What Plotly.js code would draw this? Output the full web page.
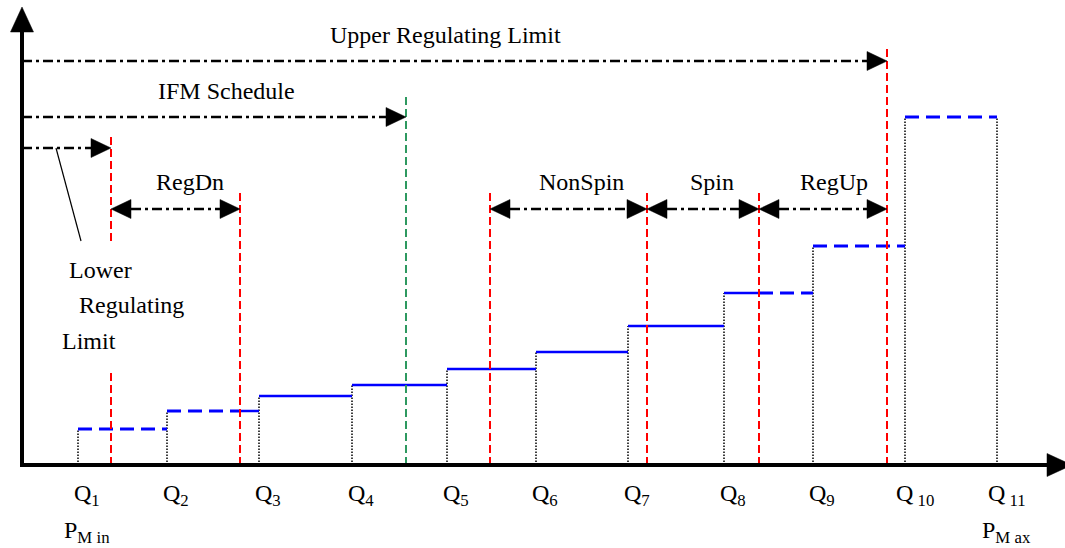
<!DOCTYPE html>
<html>
<head>
<meta charset="utf-8">
<script src="https://cdn.plot.ly/plotly-3.0.1.min.js"></script>
<style>html,body{margin:0;padding:0;background:#fff;}#chart{width:1065px;height:548px;}</style>
</head>
<body>
<div id="chart"></div>
<script>
// ---------------- data ----------------
const qLabels = ['Q<sub>1</sub>','Q<sub>2</sub>','Q<sub>3</sub>','Q<sub>4</sub>','Q<sub>5</sub>','Q<sub>6</sub>','Q<sub>7</sub>','Q<sub>8</sub>','Q<sub>9</sub>','Q<sub> 10</sub>','Q<sub> 11</sub>'];
const qMW = [56, 145, 237, 330, 425, 514, 606, 702, 791, 883, 975];
const stepPrice = [36, 54, 69, 80, 96, 113, 139, 172, 219, 348];
const pMinLabel = 'P<sub>M in</sub>';
const pMaxLabel = 'P<sub>M ax</sub>';

const lowerRegLimit = 89;
const regDnEnd = 218;
const ifmSchedule = 384;
const nonSpinStart = 468;
const spinStart = 625;
const regUpStart = 737;
const upperRegLimit = 865;

const reserveNames = ['RegDn', 'NonSpin', 'Spin', 'RegUp'];
const reserveFrom = [lowerRegLimit, nonSpinStart, spinStart, regUpStart];
const reserveTo = [regDnEnd, spinStart, regUpStart, upperRegLimit];

const limitNames = ['Upper Regulating Limit', 'IFM Schedule'];

// ---------------- drawing ----------------
const FONT = 'Liberation Serif, Times New Roman, serif';
const AX_TOP = 433, AX_RIGHT = 1025;
const yURL = 404, yIFM = 348, yLRL = 317, yRes = 256;
const HEAD_L = 20, HEAD_H = 9.5;

const traces = [];
function seg(X, Y, x0, x1, y0, y1) { X.push(x0, x1, null); Y.push(y0, y1, null); }

// dotted verticals at Q
const dX = [], dY = [];
qMW.forEach((q, i) => seg(dX, dY, q, q, 0, stepPrice[Math.min(i, stepPrice.length - 1)]));
traces.push({x: dX, y: dY, mode: 'lines', line: {color: '#000', width: 1.5, dash: '1.5px,1.5px'}});

// step curve
const sX = [], sY = [], hX = [], hY = [];
for (let i = 0; i < stepPrice.length; i++) {
  const a = qMW[i], b = qMW[i + 1], p = stepPrice[i];
  const s0 = Math.max(a, regDnEnd), s1 = Math.min(b, regUpStart);
  if (s1 > s0) seg(sX, sY, s0, s1, p, p);
  const l1 = Math.min(b, regDnEnd);
  if (l1 > a) seg(hX, hY, a, l1, p, p);
  const r0 = Math.max(a, regUpStart);
  if (b > r0) seg(hX, hY, r0, b, p, p);
}
traces.push({x: sX, y: sY, mode: 'lines', line: {color: '#0000ff', width: 2.5}});
traces.push({x: hX, y: hY, mode: 'lines', line: {color: '#0000ff', width: 3, dash: '14px,7px'}});

// limit vertical lines
const rX = [], rY = [];
seg(rX, rY, lowerRegLimit, lowerRegLimit, 0, 96);
seg(rX, rY, lowerRegLimit, lowerRegLimit, 224, yLRL + 12);
[regDnEnd, nonSpinStart, spinStart, regUpStart].forEach(x => seg(rX, rY, x, x, 0, yRes + 20));
seg(rX, rY, upperRegLimit, upperRegLimit, 0, yURL + 14);
traces.push({x: rX, y: rY, mode: 'lines', line: {color: '#ff0000', width: 2, dash: '8px,4px'}});
traces.push({x: [ifmSchedule, ifmSchedule], y: [0, yIFM + 20], mode: 'lines', line: {color: '#2e9960', width: 2, dash: '8px,4px'}});

// dash-dot arrows
const aX = [], aY = [];
const tX = [], tY = [];
function headR(x, y) { tX.push(x, x - HEAD_L, x - HEAD_L, x, null); tY.push(y, y + HEAD_H, y - HEAD_H, y, null); }
function headL(x, y) { tX.push(x, x + HEAD_L, x + HEAD_L, x, null); tY.push(y, y + HEAD_H, y - HEAD_H, y, null); }
[[upperRegLimit, yURL], [ifmSchedule, yIFM], [lowerRegLimit, yLRL]].forEach(([x, y]) => {
  seg(aX, aY, 0, x - HEAD_L, y, y); headR(x, y);
});
reserveFrom.forEach((f, i) => {
  const t = reserveTo[i];
  seg(aX, aY, f + HEAD_L, t - HEAD_L, yRes, yRes);
  headL(f, yRes); headR(t, yRes);
});
traces.push({x: aX, y: aY, mode: 'lines', line: {color: '#000', width: 2.5, dash: '10px,4px,3px,4px'}});

// pointer line for Lower Regulating Limit
traces.push({x: [34, 59], y: [yLRL, 224], mode: 'lines', line: {color: '#000', width: 1.2}});

// axes
traces.push({x: [0, 0, null, -2, AX_RIGHT], y: [-2, AX_TOP, null, 0, 0], mode: 'lines', line: {color: '#000', width: 4}});
tX.push(0, -11.5, 11.5, 0, null); tY.push(458, AX_TOP, AX_TOP, 458, null);
tX.push(1050, AX_RIGHT, AX_RIGHT, 1050, null); tY.push(0, 11.5, -11.5, 0, null);
traces.push({x: tX, y: tY, mode: 'lines', fill: 'toself', fillcolor: '#000', line: {color: '#000', width: 0.5}});

// annotations
const ann = [];
function txt(text, x, y, xanchor) {
  ann.push({text, x, y, xref: 'x', yref: 'y', showarrow: false, xanchor: xanchor || 'center', yanchor: 'middle',
            font: {family: FONT, size: 24, color: '#000'}});
}
txt(limitNames[0], 423, 430);
txt(limitNames[1], 204, 374);
reserveNames.forEach((n, i) => {
  const cx = [168, 559, 690, 812][i];
  txt(n, cx, 283);
});
txt('Lower', 45, 195, 'left');
txt('Regulating', 55, 160, 'left');
txt('Limit', 38, 124, 'left');
qMW.forEach((q, i) => txt(qLabels[i], q - (i >= 9 ? 11 : 6), -30, 'left'));
txt(pMinLabel, 40, -67, 'left');
txt(pMaxLabel, 958, -67, 'left');

const layout = {
  width: 1065, height: 548,
  margin: {l: 0, r: 0, t: 0, b: 0},
  paper_bgcolor: '#fff', plot_bgcolor: '#fff',
  showlegend: false, hovermode: false,
  xaxis: {range: [-22, 1043], visible: false, fixedrange: true},
  yaxis: {range: [-83, 465], visible: false, fixedrange: true},
  annotations: ann
};
traces.forEach(t => { t.hoverinfo = 'skip'; t.cliponaxis = false; });
Plotly.newPlot('chart', traces, layout, {staticPlot: true});
</script>
</body>
</html>
